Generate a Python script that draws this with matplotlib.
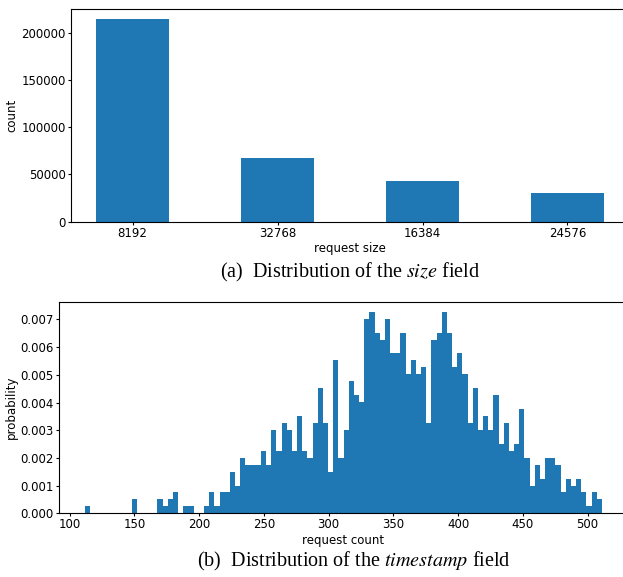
import numpy as np
import matplotlib.pyplot as plt
from matplotlib.ticker import MultipleLocator, FormatStrFormatter

plt.rcParams['font.family'] = 'DejaVu Sans'
plt.rcParams['mathtext.fontset'] = 'stix'
plt.rcParams['xtick.major.size'] = 2.4
plt.rcParams['ytick.major.size'] = 2.4
plt.rcParams['xtick.major.pad'] = 1.2
plt.rcParams['ytick.major.pad'] = 1.5

# request size distribution
size_labels = ['8192', '32768', '16384', '24576']
size_counts = [214000, 67300, 43000, 30300]

# timestamp field: per-bin request counts (100 equal bins)
ts_lo, ts_hi = 112, 511
ts_counts = [1, 0, 0, 0, 0, 0, 0, 0, 0, 2,
             0, 0, 0, 0, 2, 1, 2, 3, 0, 1,
             1, 0, 0, 1, 3, 1, 3, 3, 6, 4,
             8, 7, 7, 7, 9, 7, 12, 9, 13, 12,
             9, 14, 9, 8, 13, 18, 13, 6, 22, 8,
             12, 19, 17, 16, 28, 29, 26, 25, 28, 23,
             23, 26, 20, 22, 20, 21, 13, 25, 26, 29,
             26, 21, 23, 20, 13, 18, 12, 14, 12, 17,
             10, 13, 9, 10, 15, 8, 4, 7, 5, 8,
             8, 7, 3, 5, 4, 5, 3, 1, 3, 2]

fs = 8.5
fig = plt.figure(figsize=(6.23, 5.77), dpi=100)

# (a) 柱状图
ax1 = fig.add_axes([0.114, 0.6158, 0.8957, 0.3681])
ax1.bar(range(len(size_labels)), size_counts, width=0.5, color='#1f77b4')
ax1.set_xticks(range(len(size_labels)))
ax1.set_xticklabels(size_labels)
ax1.yaxis.set_major_locator(MultipleLocator(50000))
ax1.set_xlabel('request size', fontsize=fs, labelpad=2)
ax1.set_ylabel('count', fontsize=fs, labelpad=2)
ax1.tick_params(labelsize=fs)

# (b) 直方图, density=True
ax2 = fig.add_axes([0.0952, 0.1104, 0.9124, 0.3667])
edges = np.linspace(ts_lo, ts_hi, len(ts_counts) + 1)
ax2.hist(edges[:-1], bins=edges, weights=ts_counts, density=True, color='#1f77b4')
ax2.yaxis.set_major_formatter(FormatStrFormatter('%.3f'))
ax2.set_xlabel('request count', fontsize=fs, labelpad=2)
ax2.set_ylabel('probability', fontsize=fs, labelpad=2)
ax2.tick_params(labelsize=fs)

fig.text(350 / 623, 1 - 272 / 577, '(a)  Distribution of the $size$ field',
         ha='center', va='center', family='Liberation Serif', fontsize=14.5)
fig.text(354 / 623, 1 - 561 / 577, '(b)  Distribution of the $timestamp$ field',
         ha='center', va='center', family='Liberation Serif', fontsize=14.5)

fig.savefig('out.png', dpi=100)
